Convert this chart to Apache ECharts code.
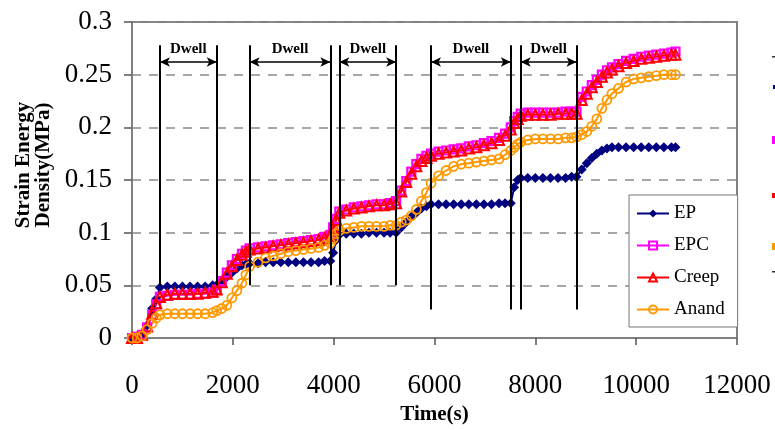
<!DOCTYPE html>
<html>
<head>
<meta charset="utf-8">
<script src="https://cdn.jsdelivr.net/npm/echarts@6/dist/echarts.min.js"></script>
<style>html,body{margin:0;padding:0;background:#fff;}#c{width:775px;height:430px;}</style>
</head>
<body>
<div id="c"></div>
<script>
// ---- data ----
var timeS = [0,100,200,300,400,480,554,
  700,850,1000,1150,1300,1450,1600,1680,
  1780,1880,1980,2080,2180,2260,2333,
  2500,2650,2800,2950,3100,3250,3400,3550,3700,3820,3934,
  3990,4050,4112,
  4250,4400,4550,4700,4850,5000,5120,5239,
  5340,5440,5540,5640,5740,5840,5931,
  6080,6230,6380,6530,6680,6830,6980,7130,7280,7400,7513,
  7580,7650,7710,
  7850,8000,8150,8300,8450,8600,8720,8817,
  8920,9020,9120,9220,9320,9420,9520,
  9650,9800,9950,10100,10250,10400,10550,10700,10780];

var epVals = [0,0,0.003,0.012,0.028,0.037,0.048,
  0.049,0.049,0.049,0.049,0.049,0.049,0.05,0.05,
  0.054,0.058,0.062,0.066,0.069,0.07,0.071,
  0.071,0.072,0.072,0.072,0.072,0.072,0.072,0.072,0.072,0.073,0.073,
  0.081,0.093,0.098,
  0.099,0.099,0.099,0.1,0.1,0.1,0.1,0.1,
  0.105,0.11,0.115,0.119,0.123,0.125,0.127,
  0.127,0.127,0.127,0.127,0.127,0.127,0.127,0.127,0.128,0.128,0.128,
  0.143,0.15,0.152,
  0.152,0.152,0.152,0.152,0.152,0.152,0.153,0.153,
  0.16,0.166,0.171,0.175,0.178,0.18,0.181,
  0.181,0.181,0.181,0.181,0.181,0.181,0.181,0.181,0.181];

var epcVals = [0,0.001,0.003,0.01,0.022,0.032,0.039,
  0.04,0.041,0.041,0.041,0.042,0.042,0.043,0.046,
  0.054,0.062,0.069,0.075,0.08,0.083,0.085,
  0.086,0.087,0.088,0.089,0.09,0.091,0.092,0.093,0.094,0.096,0.098,
  0.105,0.113,0.12,
  0.122,0.124,0.125,0.126,0.127,0.127,0.128,0.13,
  0.14,0.149,0.158,0.165,0.17,0.173,0.175,
  0.177,0.178,0.179,0.18,0.182,0.183,0.185,0.187,0.19,0.194,0.2,
  0.206,0.21,0.213,
  0.214,0.214,0.214,0.214,0.214,0.215,0.215,0.215,
  0.229,0.234,0.24,0.245,0.25,0.254,0.257,
  0.26,0.263,0.265,0.267,0.268,0.269,0.27,0.271,0.272];

var creepVals = [0,0,0.003,0.011,0.023,0.033,0.039,
  0.041,0.042,0.042,0.042,0.042,0.043,0.044,0.046,
  0.053,0.061,0.068,0.074,0.079,0.082,0.084,
  0.085,0.086,0.087,0.088,0.089,0.09,0.091,0.092,0.093,0.095,0.097,
  0.104,0.112,0.119,
  0.121,0.123,0.124,0.125,0.126,0.126,0.127,0.128,
  0.139,0.148,0.156,0.163,0.168,0.171,0.173,
  0.175,0.176,0.177,0.178,0.18,0.181,0.183,0.185,0.188,0.192,0.198,
  0.204,0.208,0.211,
  0.212,0.212,0.212,0.212,0.213,0.213,0.213,0.213,
  0.226,0.232,0.238,0.243,0.248,0.252,0.255,
  0.258,0.261,0.263,0.265,0.266,0.267,0.268,0.269,0.269];

var anandVals = [0,0,0.002,0.008,0.014,0.019,0.022,
  0.023,0.023,0.023,0.023,0.023,0.023,0.024,0.026,
  0.028,0.031,0.038,0.045,0.052,0.06,0.068,
  0.072,0.076,0.078,0.08,0.082,0.083,0.084,0.085,0.086,0.088,0.09,
  0.094,0.099,0.102,
  0.104,0.105,0.106,0.106,0.106,0.106,0.107,0.107,
  0.11,0.112,0.116,0.122,0.13,0.138,0.147,
  0.154,0.159,0.163,0.165,0.166,0.167,0.168,0.169,0.17,0.174,0.178,
  0.181,0.184,0.186,
  0.188,0.189,0.189,0.189,0.189,0.19,0.19,0.191,
  0.193,0.196,0.201,0.208,0.218,0.226,0.232,
  0.237,0.243,0.246,0.247,0.248,0.249,0.25,0.25,0.25];

var seriesNames = ['EP','EPC','Creep','Anand'];
var dwellStart = [554, 2333, 4112, 5931, 7710];
var dwellEnd   = [1680, 3934, 5239, 7513, 8817];
var dwellLabel = 'Dwell';
var dwellTop = 0.278, dwellArrow = 0.262;
var dwellBottom = [[0.05,0.05],[0.05,0.05],[0.05,0.05],[0.027,0.027],[0.027,0.027]];
var xTickLabels = ['0','2000','4000','6000','8000','10000','12000'];
var yTickLabels = ['0','0.05','0.1','0.15','0.2','0.25','0.3'];

// ---- build ----
function pairs(vals){ return timeS.map(function(t,i){ return [t, vals[i]]; }); }
var FF = '"Liberation Serif", "Times New Roman", serif';

var vLines = [], arrows = [];
dwellStart.forEach(function(s, i){
  var e = dwellEnd[i];
  vLines.push([{coord:[s, dwellTop]}, {coord:[s, dwellBottom[i][0]]}]);
  vLines.push([{coord:[e, dwellTop]}, {coord:[e, dwellBottom[i][1]]}]);
  arrows.push([{coord:[s, dwellArrow]}, {coord:[e, dwellArrow]}]);
});

function mkSeries(name, vals, color, symbol, size, lw, filled, bw){
  return {
    name: name, type: 'line', data: pairs(vals),
    symbol: symbol, symbolSize: size, showSymbol: true,
    lineStyle: {color: color, width: lw},
    itemStyle: {color: filled ? color : 'rgba(255,255,255,0)', borderColor: color, borderWidth: bw},
    emphasis: {disabled: true}
  };
}

var chart = echarts.init(document.getElementById('c'), null, {renderer: 'canvas'});
var option = {
  animation: false,
  backgroundColor: '#fff',
  grid: {left: 132, right: 38, top: 22, bottom: 92, show: true, borderColor: '#808080', borderWidth: 2, backgroundColor: 'transparent'},
  xAxis: {
    type: 'value', min: 0, max: 12000, interval: 2000,
    axisLine: {show: true, onZero: false, lineStyle: {color: '#808080', width: 2}},
    axisTick: {show: true, length: 7, lineStyle: {color: '#555', width: 1.5}},
    axisLabel: {fontFamily: FF, fontSize: 27, color: '#000', margin: 34,
      formatter: function(v){ var i = Math.round(v / 2000); return xTickLabels[i] !== undefined ? xTickLabels[i] : String(v); }},
    splitLine: {show: false},
    name: 'Time(s)', nameLocation: 'middle', nameGap: 65,
    nameTextStyle: {fontFamily: FF, fontWeight: 'bold', fontSize: 21, color: '#000'}
  },
  yAxis: {
    type: 'value', min: 0, max: 0.3, interval: 0.05,
    axisLine: {show: true, lineStyle: {color: '#808080', width: 2}},
    axisTick: {show: true, length: 8, lineStyle: {color: '#555', width: 1.5}},
    axisLabel: {fontFamily: FF, fontSize: 27, color: '#000', margin: 20,
      formatter: function(v){ var i = Math.round(v / 0.05); return yTickLabels[i] !== undefined ? yTickLabels[i] : String(v); }},
    splitLine: {show: true, lineStyle: {color: '#8a8a8a', width: 1.5, type: [9, 8]}}
  },
  legend: {
    data: seriesNames, orient: 'vertical', left: 629, top: 195,
    padding: [9, 13, 8, 7], itemGap: 13, itemWidth: 32, itemHeight: 10,
    backgroundColor: '#fff', borderColor: '#777', borderWidth: 1, borderRadius: 0,
    textStyle: {fontFamily: FF, fontSize: 19, color: '#000', lineHeight: 19},
    selectedMode: false
  },
  graphic: [
    {type: 'text', x: 34, y: 165, rotation: Math.PI / 2,
      style: {text: 'Strain Energy\nDensity(MPa)', fontFamily: FF, fontWeight: 'bold', fontSize: 21, lineHeight: 20,
        align: 'center', verticalAlign: 'middle', fill: '#000'}},
    {type: 'rect', shape: {x: 772, y: 56, width: 3, height: 1.5}, style: {fill: '#333'}},
    {type: 'rect', shape: {x: 773, y: 85, width: 2, height: 4}, style: {fill: '#000080'}},
    {type: 'rect', shape: {x: 772, y: 136, width: 3, height: 8}, style: {fill: '#ff00ff'}},
    {type: 'rect', shape: {x: 772, y: 193, width: 3, height: 5}, style: {fill: '#ff0000'}},
    {type: 'rect', shape: {x: 772, y: 243, width: 3, height: 7}, style: {fill: '#ff9900'}},
    {type: 'rect', shape: {x: 772, y: 271, width: 3, height: 1.5}, style: {fill: '#333'}}
  ],
  series: [
    mkSeries('EP', epVals, '#000080', 'diamond', 10, 2, true, 0),
    mkSeries('EPC', epcVals, '#ff00ff', 'rect', 8, 2, false, 2.2),
    mkSeries('Creep', creepVals, '#ff0000', 'triangle', 10, 2, false, 2),
    mkSeries('Anand', anandVals, '#ff9900', 'circle', 9, 2, false, 1.8),
    {type: 'line', name: 'dwellLines', data: [], silent: true,
      markLine: {silent: true, animation: false, symbol: ['none', 'none'],
        lineStyle: {color: '#000', width: 2, type: 'solid'}, label: {show: false},
        emphasis: {disabled: true}, data: vLines}},
    {type: 'line', name: 'dwellArrows', data: [], silent: true,
      markLine: {silent: true, animation: false, symbol: ['arrow', 'arrow'], symbolSize: [7, 10],
        lineStyle: {color: '#000', width: 1.5, type: 'solid'},
        label: {show: true, formatter: dwellLabel, position: 'insideMiddleTop', distance: 5,
          fontFamily: FF, fontWeight: 'bold', fontSize: 15, color: '#000'},
        emphasis: {disabled: true}, data: arrows}}
  ]
};
chart.setOption(option);
</script>
</body>
</html>
